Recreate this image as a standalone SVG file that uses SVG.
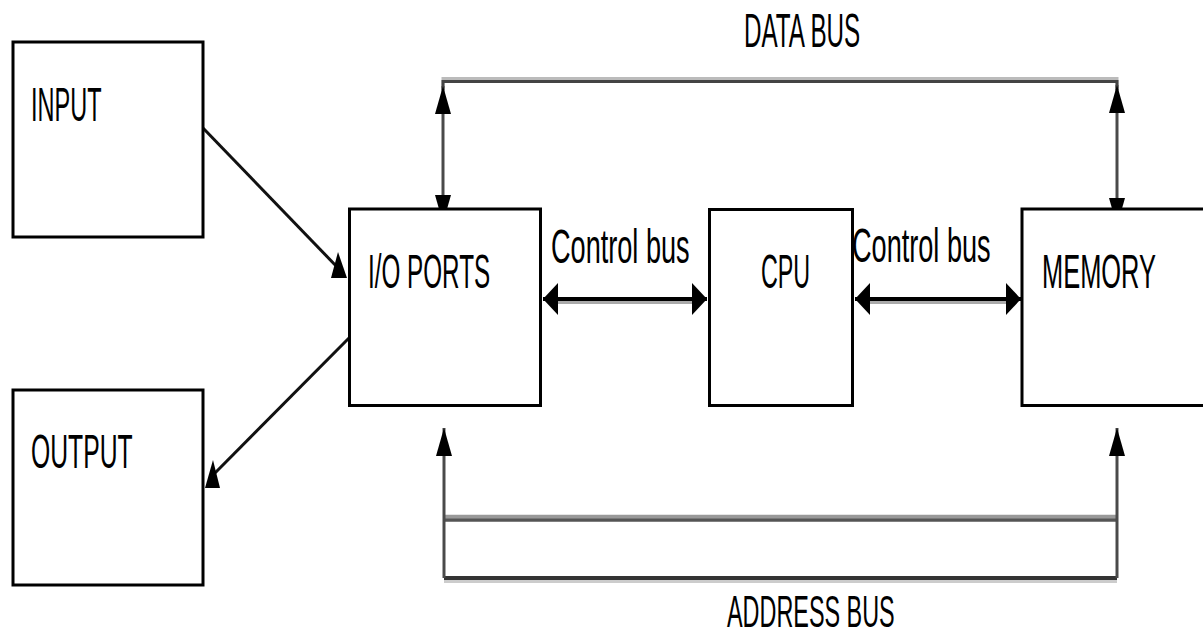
<svg xmlns="http://www.w3.org/2000/svg" width="1203" height="637" viewBox="0 0 1203 637">
  <style>
    .box { fill: #fff; stroke: #000; stroke-width: 3; }
    .lbl { font-family: "Liberation Sans", Arial, sans-serif; font-size: 48px; fill: #000; }
    .vline { stroke: #4a4a4a; stroke-width: 3; fill: none; }
    .diag { stroke: #111; stroke-width: 3; fill: none; }
    .ctrl { stroke: #000; stroke-width: 4; fill: none; }
    .shadow { stroke: #aaa; stroke-width: 3; fill: none; }
    .head { fill: #000; }
  </style>
  <defs>
    <marker id="vhead" markerUnits="userSpaceOnUse" markerWidth="30" markerHeight="16" viewBox="0 0 28 16" refX="28" refY="8" orient="auto-start-reverse">
      <path d="M0,0 L28,8 L0,16 Z" fill="#000"/>
    </marker>
    <marker id="hhead" markerUnits="userSpaceOnUse" markerWidth="15" markerHeight="32" viewBox="0 0 15 32" refX="15" refY="16" orient="auto-start-reverse">
      <path d="M0,0 L15,16 L0,32 Z" fill="#000"/>
    </marker>
  </defs>

  <g id="connectors">
    <!-- data bus -->
    <path d="M443,88 V78.5 H1117 V88" stroke="#bbb" stroke-width="3" fill="none"/>
    <path d="M443,90 V81.5 H1117 V90" stroke="#444" stroke-width="3" fill="none"/>
    <line class="vline" x1="443" y1="86" x2="443" y2="223" marker-start="url(#vhead)" marker-end="url(#vhead)"/>
    <line class="vline" x1="1117" y1="85" x2="1117" y2="226" marker-start="url(#vhead)" marker-end="url(#vhead)"/>

    <!-- address bus -->
    <line x1="444" y1="516.5" x2="1117" y2="516.5" stroke="#999" stroke-width="3.5"/>
    <line x1="444" y1="520" x2="1117" y2="520" stroke="#555" stroke-width="3.5"/>
    <line x1="444" y1="578" x2="1117" y2="578" stroke="#333" stroke-width="4"/>
    <line x1="444" y1="581.5" x2="1117" y2="581.5" stroke="#ccc" stroke-width="3"/>
    <line class="vline" x1="444" y1="578" x2="444" y2="428" marker-end="url(#vhead)"/>
    <line class="vline" x1="1117" y1="578" x2="1117" y2="428" marker-end="url(#vhead)"/>

    <!-- control buses -->
    <line class="shadow" x1="556" y1="302.5" x2="693" y2="302.5"/>
    <line class="ctrl" x1="543" y1="299" x2="707" y2="299" marker-start="url(#hhead)" marker-end="url(#hhead)"/>
    <line class="shadow" x1="868" y1="302.5" x2="1006" y2="302.5"/>
    <line class="ctrl" x1="855" y1="299" x2="1021" y2="299" marker-start="url(#hhead)" marker-end="url(#hhead)"/>

    <!-- input to I/O -->
    <line class="diag" x1="203" y1="128" x2="340" y2="270"/>
    <polygon class="head" points="338,252 331,278 347,278"/>
    <!-- I/O to output -->
    <line class="diag" x1="349" y1="338" x2="213" y2="475"/>
    <polygon class="head" points="213,460 205,488 220,488"/>
  </g>

  <g id="input">
    <rect class="box" x="13" y="42" width="190" height="195"/>
    <text class="lbl" transform="translate(31,121) scale(0.49,1)">INPUT</text>
  </g>
  <g id="output">
    <rect class="box" x="13" y="390" width="190" height="195"/>
    <text class="lbl" transform="translate(31,468) scale(0.515,1)">OUTPUT</text>
  </g>
  <g id="io-ports">
    <rect class="box" x="349.5" y="209" width="191" height="196.5"/>
    <text class="lbl" transform="translate(368,288) scale(0.505,1)">I/O PORTS</text>
  </g>
  <g id="cpu">
    <rect class="box" x="709.5" y="209.5" width="143" height="196"/>
    <text class="lbl" transform="translate(761,288) scale(0.485,1)">CPU</text>
  </g>
  <g id="memory">
    <rect class="box" x="1022" y="209" width="200" height="196.5"/>
    <text class="lbl" transform="translate(1042,288) scale(0.53,1)">MEMORY</text>
  </g>

  <g id="labels">
    <text class="lbl" transform="translate(551,263) scale(0.565,1)">Control bus</text>
    <text class="lbl" transform="translate(852,262) scale(0.565,1)">Control bus</text>
    <text class="lbl" transform="translate(744,47) scale(0.505,1)">DATA BUS</text>
    <text class="lbl" style="font-size:45px" transform="translate(727,627) scale(0.52,1)">ADDRESS BUS</text>
  </g>
</svg>
